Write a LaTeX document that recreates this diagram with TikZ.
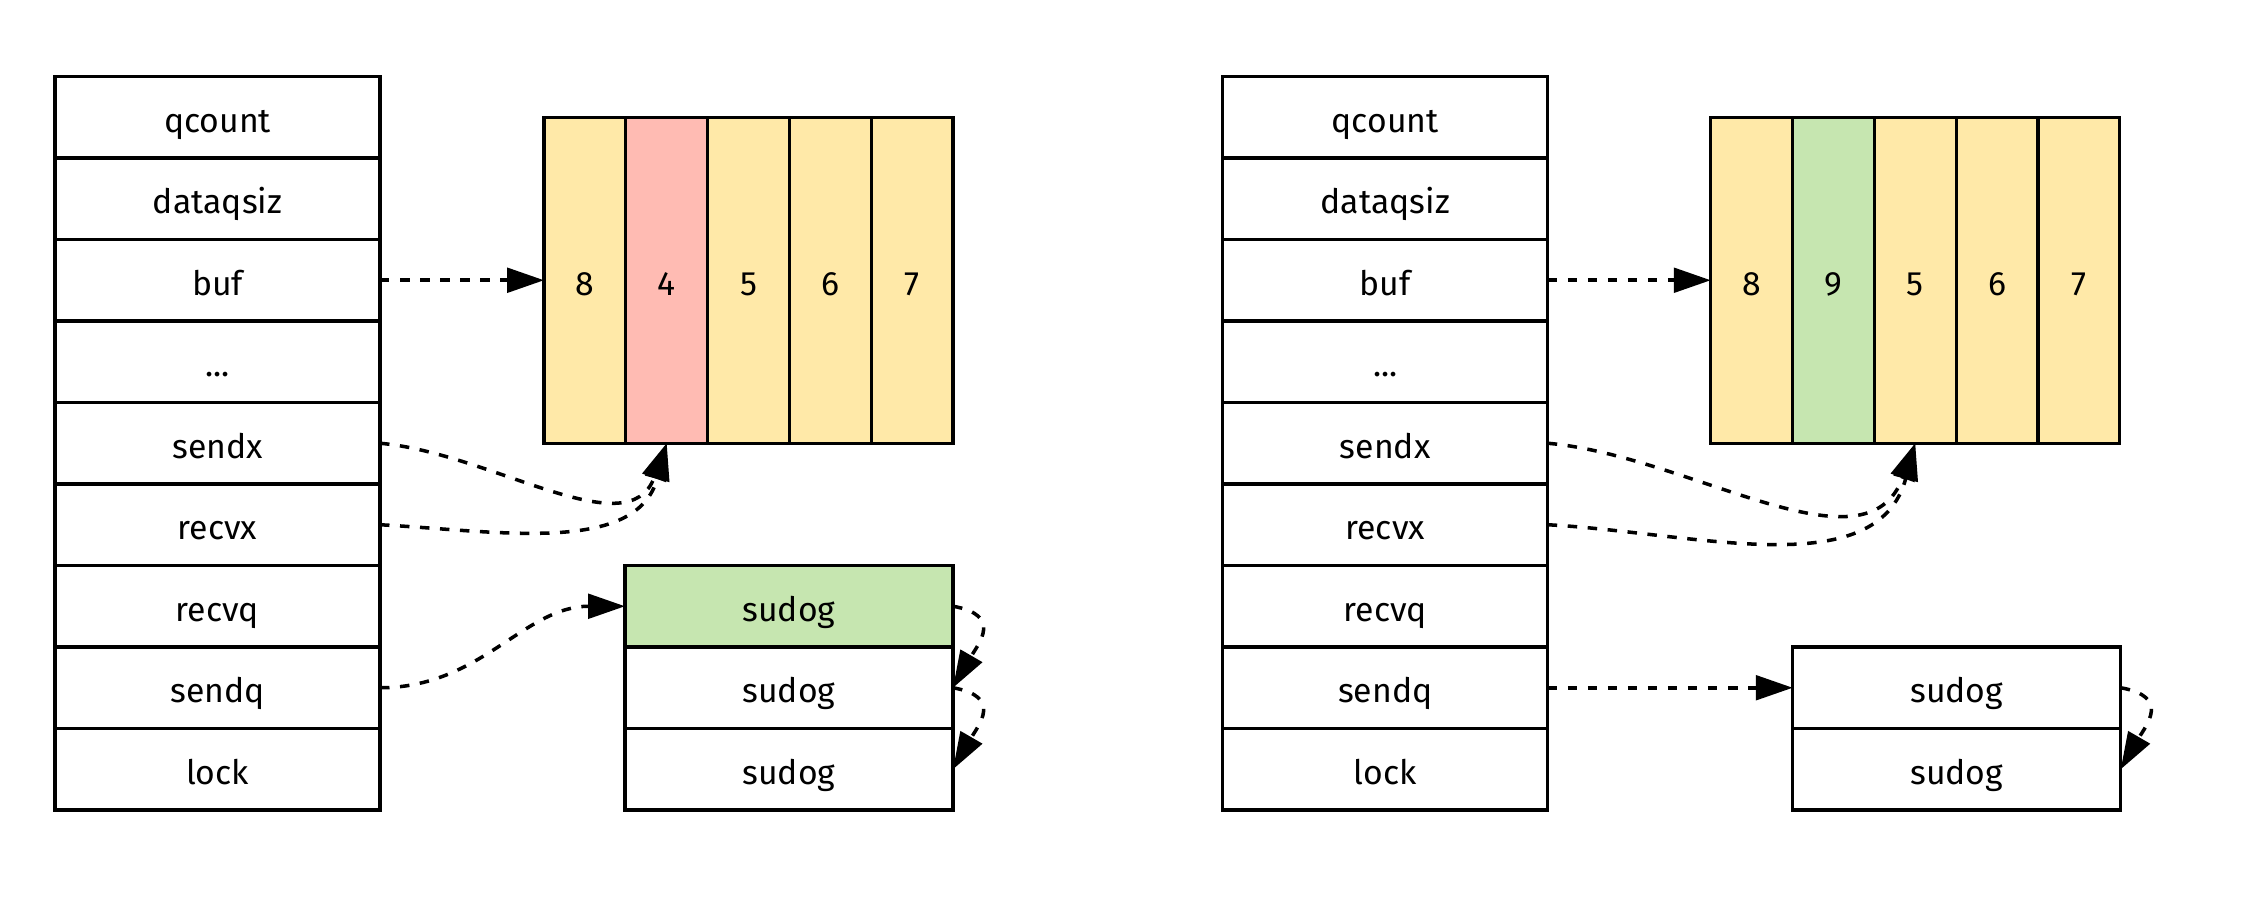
\documentclass[tikz,border=0pt]{standalone}
\usepackage{fontspec}
\setmainfont{Fira Sans}
\usepackage{xcolor}
\usetikzlibrary{positioning,arrows.meta}
\definecolor{bufyellow}{HTML}{FFE9A8}
\definecolor{slotred}{HTML}{FFBBB3}
\definecolor{slotgreen}{HTML}{C6E6B0}

\begin{document}
\begin{tikzpicture}[node distance=0pt, line width=0.9pt,
  every node/.style = {font=\fontsize{9.6}{11}\selectfont, text height=1.8ex, text depth=0.2ex},
  field/.style = {draw, minimum width=3.25cm, minimum height=0.815cm, inner sep=0pt, outer sep=0pt},
  slot/.style = {draw, fill=bufyellow, minimum width=0.818cm, minimum height=3.26cm, inner sep=0pt, outer sep=0pt},
  waiter/.style = {draw, minimum width=3.28cm, minimum height=0.815cm, inner sep=0pt, outer sep=0pt},
  ptr/.style = {dash pattern=on 2.7pt off 3pt, line width=1pt, -{Triangle[length=10.5pt,width=7pt]}}]
\useasboundingbox (0,0) rectangle (22.52,-9.04);
% left: hchan before the send
\node[field] (qcountA) at (2.175,-1.1725) {qcount};
\node[field] (dataqsizA) [below=of qcountA] {dataqsiz};
\node[field] (bufA) [below=of dataqsizA] {buf};
\node[field] (dotsA) [below=of bufA] {...};
\node[field] (sendxA) [below=of dotsA] {sendx};
\node[field] (recvxA) [below=of sendxA] {recvx};
\node[field] (recvqA) [below=of recvxA] {recvq};
\node[field] (sendqA) [below=of recvqA] {sendq};
\node[field] (lockA) [below=of sendqA] {lock};
\node[slot] (s1A) [right=1.64cm of bufA] {8};
\node[slot] (s2A) [right=of s1A,fill=slotred] {4};
\node[slot] (s3A) [right=of s2A] {5};
\node[slot] (s4A) [right=of s3A] {6};
\node[slot] (s5A) [right=of s4A] {7};
\node[waiter] (g1A) [right=2.45cm of recvqA,fill=slotgreen] {sudog};
\node[waiter] (g2A) [below=of g1A] {sudog};
\node[waiter] (g3A) [below=of g2A] {sudog};
\draw[ptr] (bufA) -- (s1A);
\draw[ptr] (sendxA.east) to [out=-5,in=-110] (s2A.south);
\draw[ptr] (recvxA.east) to [out=-3,in=-105] (s2A.south);
\draw[ptr] (sendqA.east) to [out=0,in=180] (g1A.west);
\draw[ptr] (g1A.east) to [out=-10,in=60,looseness=1.6] (g2A.east);
\draw[ptr] (g2A.east) to [out=-10,in=60,looseness=1.6] (g3A.east);
% right: hchan after the send
\node[field] (qcountB) at (13.852,-1.1725) {qcount};
\node[field] (dataqsizB) [below=of qcountB] {dataqsiz};
\node[field] (bufB) [below=of dataqsizB] {buf};
\node[field] (dotsB) [below=of bufB] {...};
\node[field] (sendxB) [below=of dotsB] {sendx};
\node[field] (recvxB) [below=of sendxB] {recvx};
\node[field] (recvqB) [below=of recvxB] {recvq};
\node[field] (sendqB) [below=of recvqB] {sendq};
\node[field] (lockB) [below=of sendqB] {lock};
\node[slot] (s1B) [right=1.63cm of bufB] {8};
\node[slot] (s2B) [right=of s1B,fill=slotgreen] {9};
\node[slot] (s3B) [right=of s2B] {5};
\node[slot] (s4B) [right=of s3B] {6};
\node[slot] (s5B) [right=of s4B] {7};
\node[waiter] (g1B) [right=2.45cm of sendqB] {sudog};
\node[waiter] (g2B) [below=of g1B] {sudog};
\draw[ptr] (bufB) -- (s1B);
\draw[ptr] (sendxB.east) to [out=-5,in=-110] (s3B.south);
\draw[ptr] (recvxB.east) to [out=-3,in=-105] (s3B.south);
\draw[ptr] (sendqB) -- (g1B);
\draw[ptr] (g1B.east) to [out=-10,in=60,looseness=1.6] (g2B.east);
\end{tikzpicture}
\end{document}
